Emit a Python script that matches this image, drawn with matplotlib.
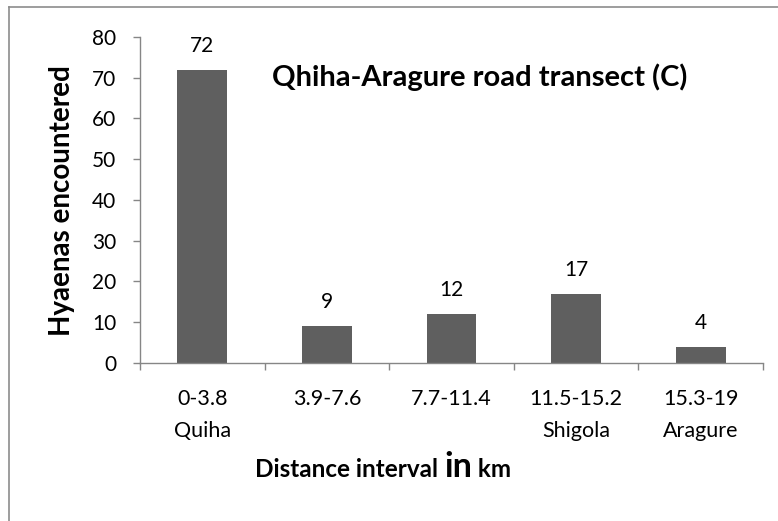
import matplotlib
matplotlib.use('Agg')
import matplotlib.pyplot as plt
from matplotlib.lines import Line2D

plt.rcParams['font.family'] = ['Lato', 'DejaVu Sans']

# data
intervals = ['0-3.8\nQuiha', '3.9-7.6', '7.7-11.4', '11.5-15.2\nShigola', '15.3-19\nAragure']
hyaenas = [72, 9, 12, 17, 4]

fig = plt.figure(figsize=(7.78, 5.21), dpi=100)
ax = fig.add_axes([0.18, 0.3033, 0.8007, 0.6257])

x = list(range(len(intervals)))
ax.bar(x, hyaenas, width=0.4, color='#5f5f5f', zorder=2)
for xi, v in zip(x, hyaenas):
    ax.annotate(str(v), (xi, v), xytext=(0, 10), textcoords='offset points',
                ha='center', va='bottom', fontsize=15)

ax.set_xlim(-0.5, len(intervals) - 0.5)
ax.set_ylim(0, 80)
ax.set_yticks(range(0, 81, 10))
ax.set_xticks([i - 0.5 for i in range(len(intervals) + 1)])
ax.set_xticklabels([])
ax.set_xticks(x, minor=True)
ax.set_xticklabels(intervals, minor=True, fontsize=15.5, linespacing=1.7)
ax.tick_params(axis='x', which='minor', length=0, pad=19)
ax.tick_params(axis='x', which='major', length=5, color='#868686', width=1)
ax.tick_params(axis='y', length=5, color='#868686', width=1, labelsize=15, pad=12)

for s in ['top', 'right']:
    ax.spines[s].set_visible(False)
for s in ['left', 'bottom']:
    ax.spines[s].set_color('#868686')
    ax.spines[s].set_linewidth(1)

fig.text(0.0797, 0.616, 'Hyaenas encountered', rotation=90, ha='center', va='center',
         fontsize=20, fontweight='bold')
fig.text(0.617, 0.852, 'Qhiha-Aragure road transect (C)', ha='center', va='center',
         fontsize=21, fontweight='bold')

# x label with larger "in"
base_y = 0.0845
t1 = fig.text(0.328, base_y, 'Distance interval ', ha='left', va='baseline',
              fontsize=17.5, fontweight='bold')
fig.canvas.draw()
bb = t1.get_window_extent()
t2 = fig.text(bb.x1 / fig.bbox.width, base_y, 'in', ha='left', va='baseline',
              fontsize=24.5, fontweight='bold')
fig.canvas.draw()
bb2 = t2.get_window_extent()
fig.text(bb2.x1 / fig.bbox.width, base_y, ' km', ha='left', va='baseline',
         fontsize=17.5, fontweight='bold')

# chart area border (top and left visible)
fig.add_artist(Line2D([0.011, 0.011], [0, 0.986], color='#8c8c8c', lw=1.2))
fig.add_artist(Line2D([0.011, 1.0], [0.986, 0.986], color='#8c8c8c', lw=1.2))

fig.savefig('out.png', dpi=100)
